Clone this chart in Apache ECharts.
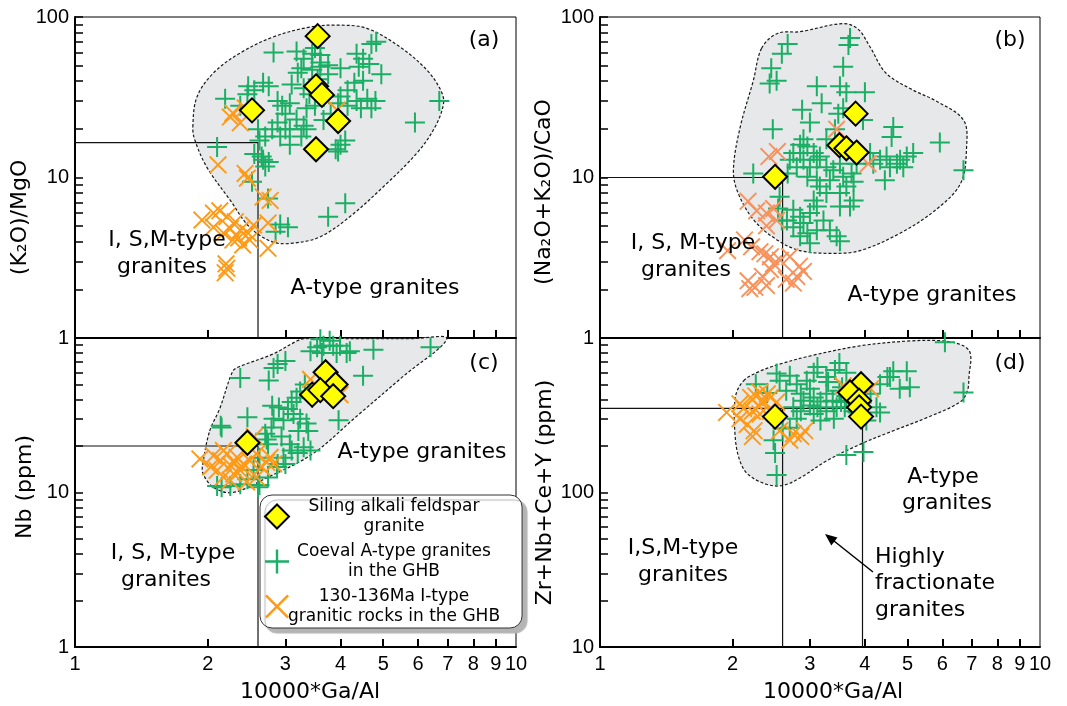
<!DOCTYPE html>
<html lang="en">
<head>
<meta charset="UTF-8">
<title>Ga/Al discrimination diagrams</title>
<script src="https://cdn.jsdelivr.net/npm/echarts@6.0.0/dist/echarts.min.js"></script>
<style>
  html, body { margin: 0; padding: 0; background: #fff; }
</style>
</head>
<body>
<div id="chart" style="width:1067px;height:706px;"></div>
<script>
// ---- names / tick values ----
var NAME_D = 'Siling alkali feldspar granite';
var NAME_G = 'Coeval A-type granites in the GHB';
var NAME_O = '130-136Ma I-type granitic rocks in the GHB';
var legendLines = {};
legendLines[NAME_D] = ['Siling alkali feldspar', 'granite'];
legendLines[NAME_G] = ['Coeval A-type granites', 'in the GHB'];
legendLines[NAME_O] = ['130-136Ma I-type', 'granitic rocks in the GHB'];

var xTicks = [2, 3, 4, 5, 6, 7, 8, 9];
var xLabels = [1, 2, 3, 4, 5, 6, 7, 8, 9, 10];
var yTicks1 = [1, 2, 3, 4, 5, 6, 7, 8, 9, 10, 20, 30, 40, 50, 60, 70, 80, 90, 100];
var yTicks10 = [10, 20, 30, 40, 50, 60, 70, 80, 90, 100, 200, 300, 400, 500, 600, 700, 800, 900, 1000];

// ---- (a) K2O/MgO ----
var regionA = [[1.85,20.6],[1.89,31.7],[2.06,44.8],[2.37,59.7],[2.81,75],[3.41,86.6],[3.93,89],[4.59,85],[5.46,65],[6.28,46.7],[6.75,35],[6.85,29],[6.55,20.6],[5.96,14.2],[4.99,8.7],[4.2,5.7],[3.59,4.26],[3.12,3.9],[2.81,3.96],[2.49,4.9],[2.25,7.2],[1.99,11.6],[1.87,17.1]];
var linesA = [[[1,16.5],[2.6,16.5],[2.6,1]]];
var greenA = [[4.82,70],[4.7,68],[2.82,60],[3.18,61],[3.3,55],[3.45,59],[3.6,52],[3.75,50],[3.26,48],[3.45,47],[3.6,49],[3.75,44],[3.55,41],[4.0,48],[4.35,59],[4.5,55],[4.4,49],[4.65,51],[4.95,44],[4.5,40],[4.3,39],[4.15,35],[4.6,31],[4.8,30],[4.35,30],[4.7,27],[4.45,27],[4.15,28],[4.0,32],[6.7,30],[5.9,22],[2.47,37],[2.67,39],[2.55,35],[2.75,37],[2.19,31],[2.37,28],[2.46,33],[2.88,30],[2.95,28],[3.07,29],[3.0,25],[3.18,23],[2.88,22],[3.0,20],[3.3,21],[3.07,20],[3.26,18],[2.92,18],[3.07,16],[3.35,20],[3.9,15],[4.0,16],[4.1,17],[3.95,14.5],[2.7,18],[2.8,20],[2.62,17],[2.1,15.5],[2.65,13.5],[2.75,12.5],[2.7,11.7],[2.67,12.9],[2.52,9.4],[2.74,7.4],[2.92,5.1],[3.04,4.9],[2.85,4.6],[3.75,5.7],[4.1,6.9],[3.5,28],[3.35,27],[3.66,22.8],[3.8,25],[3.95,29],[3.1,38],[3.3,36],[3.5,64],[3.6,58],[3.2,45],[3.4,33],[2.6,20],[2.55,14]];
var orangeA = [[2.28,25.2],[2.37,21.9],[2.25,23.8],[2.43,27.1],[2.11,12],[2.43,10.6],[2.46,9.9],[2.67,7.56],[2.77,7.2],[2.74,5.21],[1.94,5.43],[2.06,6.0],[2.13,6.2],[2.21,5.7],[2.31,5.3],[2.37,4.7],[2.47,4.5],[2.49,4.08],[2.4,3.8],[2.35,4.2],[2.74,3.62],[2.21,2.72],[2.19,2.55],[2.2,2.9],[2.06,4.9],[2.25,4.8],[2.54,5.05],[2.28,4.08],[2.17,4.51],[3.93,26.3]];
var diaA = [[3.55,76],[3.52,37],[3.63,32.7],[2.52,26.2],[3.95,22.5],[3.52,15]];

// ---- (b) (Na2O+K2O)/CaO ----
var regionB = [[2.33,63.8],[2.53,79],[2.85,81],[3.57,91],[3.86,84],[4.11,65],[4.47,44.6],[5.15,35],[5.8,30],[6.7,22.8],[6.81,15.5],[6.6,9.2],[5.8,6.3],[4.81,4.5],[3.9,3.5],[3.39,3.37],[2.85,3.5],[2.52,4.1],[2.24,5.4],[2.06,8.0],[2.01,11.1],[2.08,20.3],[2.23,40]];
var linesB = [[[1,10],[2.6,10],[2.6,1]]];
var greenB = [[2.67,68],[2.59,59],[2.45,48],[2.52,40],[2.43,38.5],[3.7,74],[3.67,67],[3.57,49],[3.51,37],[3.63,34],[4.0,34],[3.57,27],[3.48,25],[3.11,37],[2.88,26.4],[3.0,22],[3.19,29],[2.47,20],[2.9,17.3],[2.85,16],[2.75,14.2],[2.96,15.6],[3.06,14.2],[3.16,13.5],[4.64,20.6],[4.6,17.9],[5.92,16.5],[6.7,11.1],[5.15,14.2],[4.98,13.5],[4.81,12.9],[4.73,12.2],[4.56,11.6],[4.48,13.5],[4.33,12.9],[4.18,12.2],[4.44,9.6],[4.89,11.6],[3.27,11.6],[3.39,11.1],[3.51,12.2],[3.57,10.1],[3.73,10.6],[3.77,9.4],[3.83,12.2],[3.63,8.8],[3.51,8.0],[3.33,9.6],[3.11,12.9],[3.0,11.6],[2.9,12.9],[2.85,14.2],[2.8,11.6],[2.7,12.9],[2.67,10.6],[2.96,10.1],[3.11,9.6],[3.16,8.8],[3.27,8.0],[3.77,7.2],[3.7,6.6],[3.51,6.6],[3.06,7.2],[3.11,6.6],[3.0,6.0],[3.22,5.4],[2.85,5.7],[2.75,6.3],[2.66,5.4],[2.75,4.9],[2.9,5.2],[2.96,4.5],[3.11,4.7],[3.33,4.7],[3.45,4.3],[3.51,4.0],[3.0,3.9],[2.85,4.3],[2.23,10.6],[2.56,7.6],[2.54,6.4],[2.59,5.4],[4.11,14.2],[3.27,17.3],[3.42,20],[3.96,22.8]];
var orangeB = [[2.42,13.5],[2.53,14.5],[2.17,7.1],[2.27,6.2],[2.39,6.0],[2.48,6.4],[2.52,5.4],[2.39,5.0],[2.13,4.08],[1.95,3.5],[2.21,3.7],[2.31,3.45],[2.37,3.35],[2.44,3.21],[2.48,2.9],[2.57,3.05],[2.7,3.21],[2.84,2.8],[2.8,2.42],[2.65,2.32],[2.44,2.67],[2.34,2.42],[2.25,2.07],[2.19,2.03],[2.17,2.27],[2.39,2.12],[2.75,2.2],[2.9,2.6],[3.45,20],[4.07,12.2]];
var diaB = [[2.5,10.1],[3.81,25],[3.5,15.9],[3.63,15.2],[3.83,14.3]];

// ---- (c) Nb ----
var regionC = [[2.02,25],[2.13,35],[2.28,61],[2.37,65.6],[2.81,78.7],[3.18,95.4],[3.3,99],[4.5,99],[5.8,99],[6.97,99],[5.53,56],[4.36,31.3],[3.46,17.8],[2.73,12.5],[2.28,10],[2.06,10.8],[1.95,13.3],[1.95,15.4]];
var linesC = [[[1,20],[2.6,20],[2.6,1]]];
var greenC = [[3.54,87],[3.66,89],[3.85,89],[3.99,89],[3.92,80],[4.13,80],[4.2,82],[4.75,84],[6.4,87],[3.42,82],[3.63,80],[3.78,96],[3.6,98],[3.0,71],[2.88,68],[2.82,64],[2.37,55],[2.75,53],[2.46,30.7],[2.15,26.3],[4.5,57],[3.32,50],[3.24,45],[3.18,41],[3.45,41],[3.1,38.5],[2.8,36.5],[2.9,35.5],[3.04,34.7],[2.82,30],[2.97,29.4],[3.13,32.2],[3.24,30],[3.35,28],[3.38,25],[3.21,25],[2.94,23],[3.07,20.5],[3.3,19.6],[3.42,18.7],[2.97,16.8],[3.0,15.3],[3.96,29.4],[2.79,26.3],[2.7,24],[2.74,20.5],[2.62,16.8],[2.54,14],[2.46,12.2],[2.37,11.3],[2.15,10.8],[2.6,10.8],[2.74,12.5],[2.88,15.3],[2.72,22],[3.1,18.7],[3.2,18],[2.87,14.6],[2.25,11],[2.62,11.2],[2.1,11],[2.14,27]];
var orangeC = [[1.92,16.5],[2.06,17.3],[2.14,16.1],[2.21,17.8],[2.25,15],[2.33,16.9],[2.41,15.3],[2.1,13.9],[2.17,12.6],[2.29,13.2],[2.37,13.9],[2.49,16.1],[2.58,17.8],[2.65,14.6],[2.77,16.9],[2.82,15.3],[2.58,12.6],[2.03,14.6],[2.25,12],[2.45,11.7],[2.17,18.7],[2.55,23],[3.42,54],[3.99,43],[2.72,15.7],[2.3,15.5],[2.4,14.5]];
var diaC = [[3.7,60],[3.9,50],[3.45,43],[3.6,46],[3.85,42],[2.46,21]];

// ---- (d) Zr+Nb+Ce+Y ----
var regionD = [[2.12,528],[2.31,610],[2.56,677],[3.0,765],[3.9,890],[5.06,957],[6.03,957],[6.7,890],[6.95,790],[6.9,575],[6.84,456],[6.58,385],[5.53,305],[4.64,251],[3.9,205],[3.27,160],[2.86,125],[2.6,111],[2.39,113],[2.17,131],[2.08,160],[2.03,225],[2.03,412]];
var linesD = [[[1,350],[3.95,350],[3.95,10]], [[2.6,350],[2.6,10]]];
var greenD = [[6.08,940],[6.7,444],[4.98,610],[4.64,610],[5.06,480],[4.56,560],[4.8,470],[4.33,502],[3.5,690],[3.12,650],[3.06,595],[3.42,620],[3.63,595],[3.27,560],[2.95,528],[2.52,590],[2.7,570],[2.8,502],[2.26,502],[2.56,528],[2.65,456],[2.86,435],[2.9,393],[3.06,412],[3.17,388],[3.12,356],[3.0,366],[3.27,435],[3.38,393],[3.5,456],[3.63,422],[3.53,385],[3.6,356],[3.45,356],[3.27,336],[3.06,322],[2.86,336],[2.75,356],[4.12,435],[4.25,356],[4.33,330],[4.03,292],[3.17,292],[2.8,300],[2.7,262],[2.48,218],[2.5,180],[2.52,130],[3.63,175],[3.97,183],[3.7,393],[3.77,336],[3.83,385],[3.3,520],[3.55,480],[3.0,470],[2.4,440],[3.85,330],[4.5,560],[3.4,300],[2.6,260]];
var orangeD = [[1.94,330],[2.08,375],[2.2,412],[2.26,422],[2.35,393],[2.44,412],[2.52,385],[2.22,336],[2.31,322],[2.16,275],[2.24,251],[2.22,230],[2.4,435],[2.31,444],[2.56,251],[2.75,240],[2.86,230],[2.7,218],[2.92,251],[3.57,490],[4.12,470],[2.08,300],[2.44,336],[2.3,360],[2.12,350]];
var diaD = [[3.92,502],[3.7,444],[3.88,393],[3.88,356],[3.92,310],[2.5,310]];

// ---- styles ----
var PLUS = 'path://M9,0H11V9H20V11H11V20H9V11H0V9H9Z';
var CROSS = 'path://M1.5,0L10,8.5L18.5,0L20,1.5L11.5,10L20,18.5L18.5,20L10,11.5L1.5,20L0,18.5L8.5,10L0,1.5Z';
var TXT = '"DejaVu Sans", sans-serif';
var TICKFONT = '"Liberation Sans", Arial, sans-serif';

var grids = [
    {left: 75, top: 17, width: 441, height: 321},
    {left: 600, top: 17, width: 440, height: 321},
    {left: 75, top: 338, width: 441, height: 309},
    {left: 600, top: 338, width: 440, height: 309}
];
grids.forEach(function (g) {
    g.show = true; g.borderColor = '#000'; g.borderWidth = 1;
    g.backgroundColor = 'transparent'; g.containLabel = false; g.outerBoundsMode = 'none';
});

function xAx(i, showLabel, name, pad) {
    return {
        type: 'log', logBase: 10, gridIndex: i, min: 1, max: 10,
        axisLine: {show: true, onZero: false, lineStyle: {color: '#000', width: 2}},
        axisTick: {show: true, inside: true, length: 8, customValues: xTicks, lineStyle: {color: '#000', width: 2}},
        minorTick: {show: false},
        splitLine: {show: false},
        axisLabel: {show: showLabel, customValues: xLabels, margin: 7, color: '#000',
            fontFamily: TICKFONT, fontSize: 20, hideOverlap: false},
        name: name, nameLocation: 'middle', nameGap: 34,
        nameTextStyle: {fontFamily: TXT, fontSize: 22, color: '#000', padding: pad}
    };
}
function yAx(i, lo, hi, ticks, labels, name, gap, pad) {
    return {
        type: 'log', logBase: 10, gridIndex: i, min: lo, max: hi,
        axisLine: {show: true, onZero: false, lineStyle: {color: '#000', width: 2}},
        axisTick: {show: true, inside: true, length: 8, customValues: ticks, lineStyle: {color: '#000', width: 1.5}},
        minorTick: {show: false},
        splitLine: {show: false},
        axisLabel: {customValues: labels, margin: 6, color: '#000',
            fontFamily: TICKFONT, fontSize: 20, hideOverlap: false},
        name: name, nameLocation: 'middle', nameRotate: 90, nameGap: gap,
        nameTextStyle: {fontFamily: TXT, fontSize: 22, color: '#000', padding: pad}
    };
}

function panel(i, region, lines, green, orange, orangeColor, dia) {
    var out = [];
    out.push({
        type: 'custom', xAxisIndex: i, yAxisIndex: i, z: 1, silent: true,
        data: [region[0]],
        renderItem: function (params, api) {
            return {
                type: 'polygon',
                shape: {points: region.map(function (p) { return api.coord(p); }), smooth: 0.35},
                style: {fill: '#e7e8ea', stroke: '#1a1a1a', lineWidth: 1.2, lineDash: [3, 2]}
            };
        }
    });
    lines.forEach(function (seg) {
        out.push({type: 'line', xAxisIndex: i, yAxisIndex: i, data: seg, symbol: 'none', silent: true,
            z: 3, lineStyle: {color: '#111', width: 1.2}});
    });
    out.push({name: NAME_G, type: 'scatter', xAxisIndex: i, yAxisIndex: i, data: green, z: 4,
        symbol: PLUS, symbolSize: 20, itemStyle: {color: '#1aaf64', opacity: 1}});
    out.push({name: NAME_O, type: 'scatter', xAxisIndex: i, yAxisIndex: i, data: orange, z: 5,
        symbol: CROSS, symbolSize: 18, itemStyle: {color: orangeColor, opacity: 1}});
    out.push({name: NAME_D, type: 'scatter', xAxisIndex: i, yAxisIndex: i, data: dia, z: 6,
        symbol: 'diamond', symbolSize: 24, itemStyle: {color: '#ffff00', borderColor: '#000', borderWidth: 2, opacity: 1}});
    return out;
}

function txt(x, y, s, align) {
    return {type: 'text', x: x, y: y, z: 50, silent: true,
        style: {text: s, font: '22px ' + TXT, fill: '#000',
            align: align || 'center', textAlign: align || 'center',
            verticalAlign: 'middle', textVerticalAlign: 'middle'}};
}

var chart = echarts.init(document.getElementById('chart'));
chart.setOption({
    animation: false,
    backgroundColor: '#fff',
    grid: grids,
    xAxis: [
        xAx(0, false, '', 0),
        xAx(1, false, '', 0),
        xAx(2, true, '10000*Ga/Al', [0, 0, 0, 29]),
        xAx(3, true, '10000*Ga/Al', [0, 0, 0, 26])
    ],
    yAxis: [
        yAx(0, 1, 100, yTicks1, [1, 10, 100], '(K\u2082O)/MgO', 39, [0, 80, 0, 0]),
        yAx(1, 1, 100, yTicks1, [1, 10, 100], '(Na\u2082O+K\u2082O)/CaO', 45, [0, 29, 0, 0]),
        yAx(2, 1, 100, yTicks1, [1, 10], 'Nb (ppm)', 39, [0, 0, 0, 11]),
        yAx(3, 10, 1000, yTicks10, [10, 100], 'Zr+Nb+Ce+Y (ppm)', 44, 0)
    ],
    legend: {
        orient: 'vertical', left: 260, top: 495,
        data: [NAME_D, NAME_G, NAME_O],
        selectedMode: false,
        formatter: function (n) {
            return legendLines[n].map(function (t) { return '{t|' + t + '}'; }).join('\n');
        },
        textStyle: {color: '#000', fontFamily: TXT, fontSize: 17,
            rich: {t: {width: 200, align: 'center', fontFamily: TXT, fontSize: 17, lineHeight: 20, color: '#000'}}},
        itemWidth: 24, itemHeight: 24, itemGap: 8,
        padding: [3, 22, 3, 4],
        backgroundColor: '#fff', borderColor: '#333', borderWidth: 1, borderRadius: 12,
        shadowColor: '#b4b4b4', shadowBlur: 1, shadowOffsetX: 5, shadowOffsetY: 5
    },
    graphic: [
        txt(484, 40, '(a)'), txt(1010, 40, '(b)'), txt(484, 363, '(c)'), txt(1010, 363, '(d)'),
        txt(167, 240, 'I, S,M-type'), txt(162, 267, 'granites'), txt(375, 288, 'A-type granites'),
        txt(693, 243, 'I, S, M-type'), txt(686, 270, 'granites'), txt(932, 295, 'A-type granites'),
        txt(422, 452, 'A-type granites'), txt(173, 553, 'I, S, M-type'), txt(166, 580, 'granites'),
        txt(943, 477, 'A-type'), txt(947, 503, 'granites'),
        txt(683, 548, 'I,S,M-type'), txt(683, 575, 'granites'),
        txt(875, 557, 'Highly', 'left'), txt(875, 583, 'fractionate', 'left'), txt(875, 610, 'granites', 'left'),
        {type: 'line', z: 50, silent: true, shape: {x1: 873, y1: 572, x2: 834, y2: 541},
            style: {stroke: '#000', lineWidth: 1.5}},
        {type: 'polygon', z: 50, silent: true, shape: {points: [[825, 534], [837.5, 537.6], [831.3, 545.4]]},
            style: {fill: '#000'}}
    ],
    series: [].concat(
        panel(0, regionA, linesA, greenA, orangeA, '#ff9a17', diaA),
        panel(1, regionB, linesB, greenB, orangeB, '#f8925c', diaB),
        panel(2, regionC, linesC, greenC, orangeC, '#ff9a17', diaC),
        panel(3, regionD, linesD, greenD, orangeD, '#ff9a17', diaD)
    )
});
</script>
</body>
</html>
